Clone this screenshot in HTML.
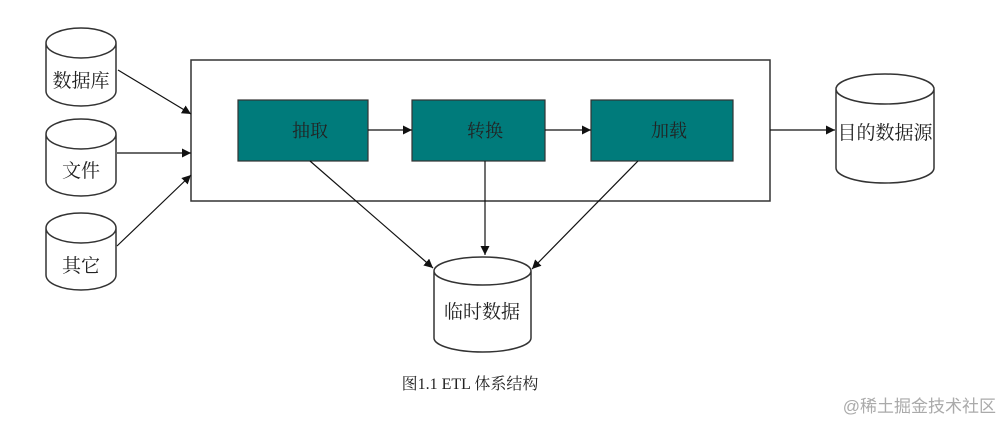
<!DOCTYPE html>
<html><head><meta charset="utf-8"><style>
body{margin:0;background:#fff;width:1003px;height:422px;overflow:hidden}
text{font-family:"Liberation Serif","Noto Serif CJK SC",serif;}
</style></head><body>
<svg width="1003" height="422" viewBox="0 0 1003 422" xmlns="http://www.w3.org/2000/svg">
<defs><marker id="a" viewBox="0 0 10 10" refX="10" refY="5" markerWidth="9" markerHeight="9" markerUnits="userSpaceOnUse" orient="auto"><path d="M0,0L10,5L0,10z" fill="#111"/></marker></defs>
<g fill="#fff" stroke="#333" stroke-width="1.5">
<path d="M46,43 V91 A35,15 0 0 0 116,91 V43 A35,15 0 0 0 46,43 A35,15 0 0 0 116,43"/>
<path d="M46,134 V181 A35,15 0 0 0 116,181 V134 A35,15 0 0 0 46,134 A35,15 0 0 0 116,134"/>
<path d="M46,228 V275 A35,15 0 0 0 116,275 V228 A35,15 0 0 0 46,228 A35,15 0 0 0 116,228"/>
<path d="M836,89 V168 A49,15 0 0 0 934,168 V89 A49,15 0 0 0 836,89 A49,15 0 0 0 934,89"/>
<path d="M434,271 V338 A48.5,14 0 0 0 531,338 V271 A48.5,14 0 0 0 434,271 A48.5,14 0 0 0 531,271"/>
<rect x="191" y="60" width="579" height="141"/>
</g>
<g fill="#007b7b" stroke="#333" stroke-width="1.2">
<rect x="238" y="100" width="130" height="61"/>
<rect x="412" y="100" width="133" height="61"/>
<rect x="591" y="100" width="142" height="61"/>
</g>
<g stroke="#111" stroke-width="1.2" marker-end="url(#a)">
<line x1="118" y1="70" x2="191" y2="114"/>
<line x1="117" y1="153" x2="191" y2="153"/>
<line x1="117" y1="246" x2="191" y2="175"/>
<line x1="368" y1="130" x2="412" y2="130"/>
<line x1="545" y1="130" x2="591" y2="130"/>
<line x1="770" y1="130" x2="835" y2="130"/>
<line x1="310" y1="161" x2="433" y2="268"/>
<line x1="485" y1="161" x2="485" y2="255"/>
<line x1="638" y1="161" x2="532" y2="269"/>
</g>
<g font-size="19" fill="#222">
<text x="81" y="87" text-anchor="middle">数据库</text>
<text x="81" y="177" text-anchor="middle">文件</text>
<text x="81" y="272" text-anchor="middle">其它</text>
<text x="885" y="139" text-anchor="middle">目的数据源</text>
<text x="482" y="318" text-anchor="middle">临时数据</text>
<text x="310" y="137" text-anchor="middle" font-size="18">抽取</text>
<text x="485" y="137" text-anchor="middle" font-size="18">转换</text>
<text x="669" y="137" text-anchor="middle" font-size="18">加载</text>
<text x="470" y="389" text-anchor="middle" font-size="16">图1.1 ETL 体系结构</text>
</g>
<text x="996" y="412" text-anchor="end" font-size="17" fill="#aaa" style="font-family:'Liberation Sans','Noto Sans CJK SC',sans-serif">@稀土掘金技术社区</text>
</svg>
</body></html>
